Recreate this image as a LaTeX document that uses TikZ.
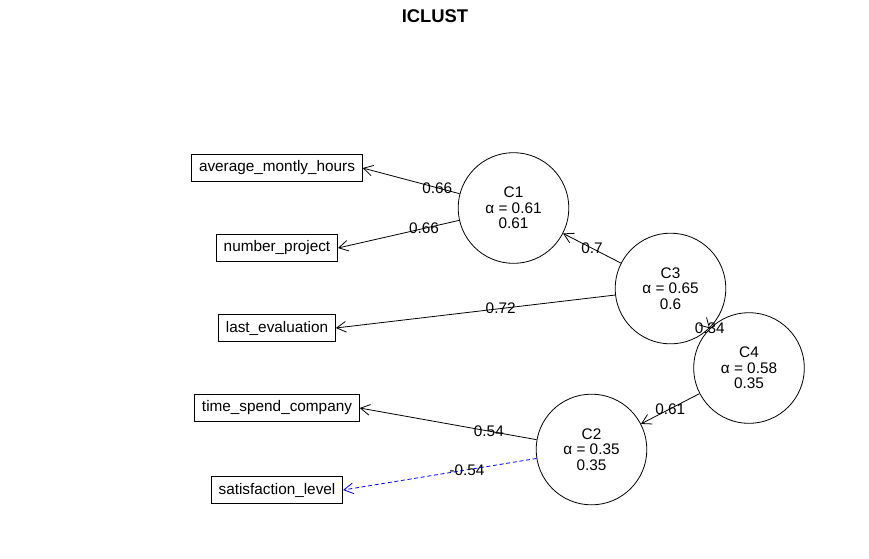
\documentclass[tikz,border=0pt]{standalone}
\usepackage{fontspec}
\setmainfont{Liberation Sans}
\usetikzlibrary{arrows.meta}

\begin{document}
\begin{tikzpicture}[x=0.75pt, y=-0.75pt, line width=0.6pt,
    >={Straight Barb[length=7pt, width=8pt]},
    cluster/.style={draw, circle, minimum size=83pt, inner sep=0pt, align=center,
        font=\fontsize{11.5}{11.6}\selectfont},
    item/.style={draw, rectangle, minimum height=20pt, inner xsep=5.5pt,
        font=\fontsize{11.5}{13}\selectfont},
    load/.style={inner sep=0pt, text=black, font=\fontsize{11.5}{13}\selectfont}]
\useasboundingbox (0, 0) rectangle (869, 558);
\node[font=\bfseries\fontsize{13.8}{15}\selectfont] (title) at (435, 16) {ICLUST};

\node[item] (amh) at (277, 168) {average\_montly\_hours};
\node[item] (np)  at (277, 248) {number\_project};
\node[item] (le)  at (277, 328) {last\_evaluation};
\node[item] (tsc) at (277, 408) {time\_spend\_company};
\node[item] (sl)  at (277, 490) {satisfaction\_level};

\node[cluster] (C1) at (513.5, 208)   {C1\\α = 0.61\\0.61};
\node[cluster] (C3) at (670.5, 288.5) {C3\\α = 0.65\\0.6};
\node[cluster] (C4) at (749, 368)     {C4\\α = 0.58\\0.35};
\node[cluster] (C2) at (591.5, 449.5) {C2\\α = 0.35\\0.35};

\draw[->] (C1) -- node[load, pos=0.23] {0.66} (amh.east);
\draw[->] (C1) -- node[load, pos=0.29] {0.66} (np.east);
\draw[->] (C3) -- node[load] {0.7} (C1);
\draw[->] (C3) -- node[load, pos=0.41] {0.72} (le.east);
\draw[->] (C3) -- node[load] {0.34} (C4);
\draw[->] (C4) -- node[load] {0.61} (C2);
\draw[->] (C2) -- node[load, pos=0.27] {0.54} (tsc.east);
\draw[->, blue, dash pattern=on 3pt off 2pt] (C2) -- node[load, pos=0.36] {-0.54} (sl.east);
\end{tikzpicture}
\end{document}
